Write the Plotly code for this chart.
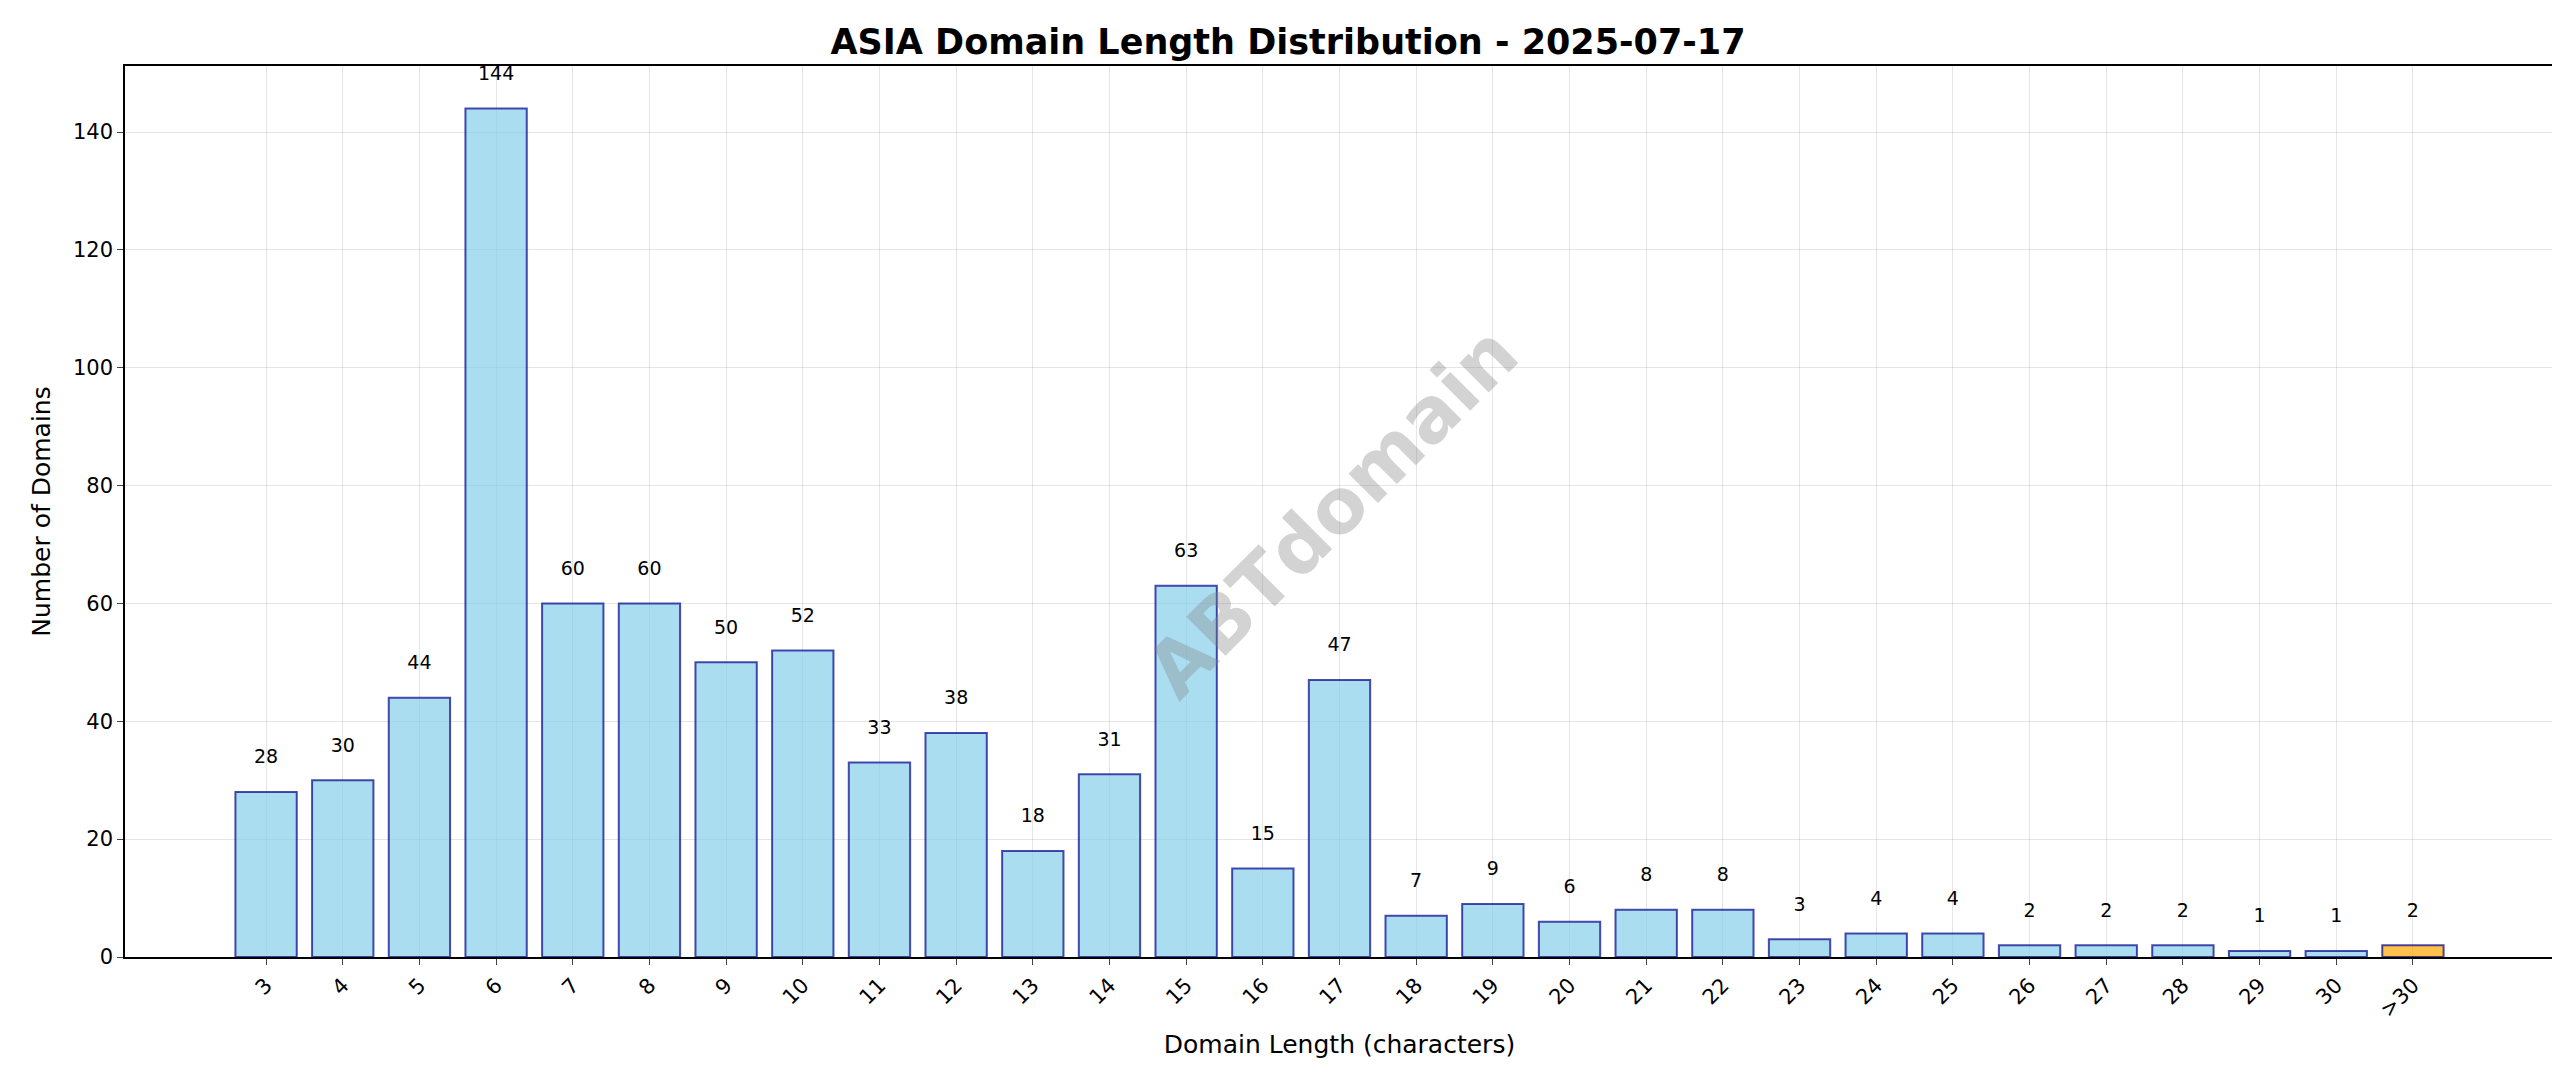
import plotly.graph_objects as go

categories = ["3","4","5","6","7","8","9","10","11","12","13","14","15","16","17","18","19","20","21","22","23","24","25","26","27","28","29","30",">30"]
counts = [28,30,44,144,60,60,50,52,33,38,18,31,63,15,47,7,9,6,8,8,3,4,4,2,2,2,1,1,2]
colors = ["rgba(135,206,235,0.7)"]*(len(categories)-1) + ["rgba(255,165,0,0.7)"]

fig = go.Figure(go.Bar(
    x=list(range(len(categories))), y=counts, width=0.8,
    marker=dict(color=colors, line=dict(color="rgba(0,0,139,0.7)", width=2)),
    text=[str(c) + "<br><span style='font-size:6px'> </span>" for c in counts], textposition="outside", cliponaxis=False,
    textfont=dict(size=19, color="black", family="DejaVu Sans"),
))
fig.update_layout(
    width=2560, height=1087, paper_bgcolor="white", plot_bgcolor="white",
    margin=dict(l=117, r=12, t=58, b=138),
    font=dict(family="DejaVu Sans", color="black"),
    title=dict(text="<b>ASIA Domain Length Distribution - 2025-07-17</b>", x=0.5, xanchor="center",
               y=1-34/1087, yanchor="middle", font=dict(size=35)),
    showlegend=False,
    annotations=[dict(text="<b>ABTdomain</b>", x=0.497, y=0.5, xref="paper", yref="paper",
                      textangle=-45, showarrow=False, font=dict(size=76, color="rgba(128,128,128,0.35)"))],
)
fig.update_xaxes(range=[-1.84, 29.84], tickmode="array", tickvals=list(range(len(categories))),
                 ticktext=categories, tickangle=-45, tickfont=dict(size=21),
                 showgrid=True, gridcolor="rgba(0,0,0,0.1)", ticks="outside", ticklen=6,
                 showline=True, linecolor="black", mirror=True, linewidth=1.5,
                 title=dict(text="Domain Length (characters)", font=dict(size=25)))
fig.update_yaxes(range=[0, 151.2], dtick=20, tickfont=dict(size=21), showgrid=True,
                 gridcolor="rgba(0,0,0,0.1)", ticks="outside", ticklen=6, zeroline=False,
                 showline=True, linecolor="black", mirror=True, linewidth=1.5,
                 title=dict(text="Number of Domains", font=dict(size=25)))
fig.write_html("out.html")
